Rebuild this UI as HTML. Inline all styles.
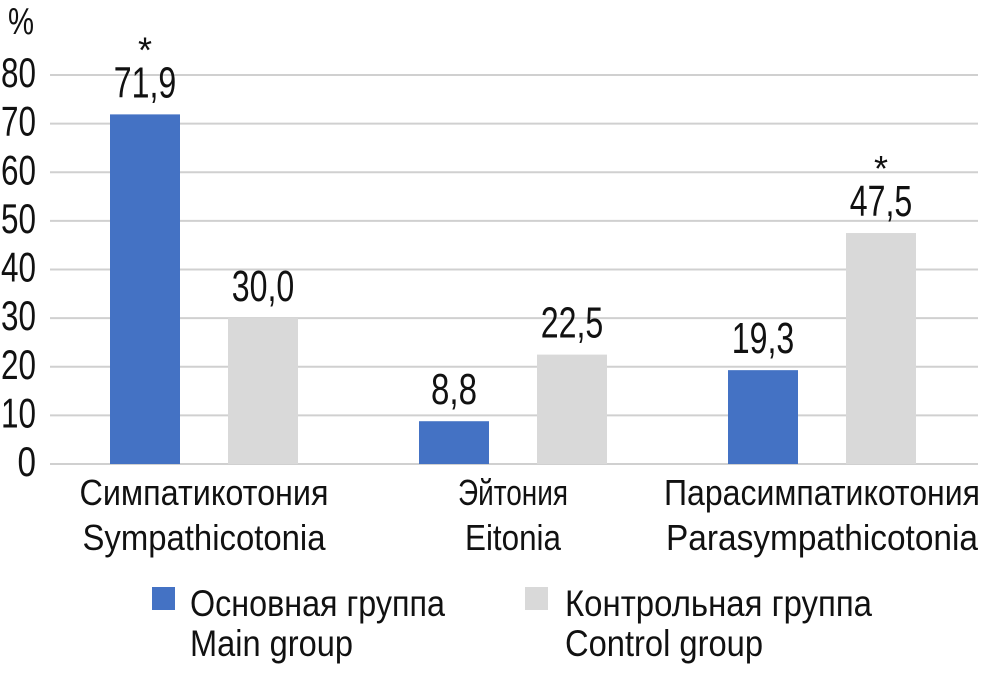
<!DOCTYPE html>
<html><head><meta charset="utf-8"><style>
body{margin:0;background:#fff}
svg text{font-family:"Liberation Sans Narrow","Liberation Sans",sans-serif;fill:#111}
</style></head><body>
<svg width="981" height="669" viewBox="0 0 981 669" xmlns="http://www.w3.org/2000/svg">
<g id="grid"></g>
<g id="yt"></g>
<text x="8" y="34" font-size="38" textLength="26" lengthAdjust="spacingAndGlyphs">%</text>
<g id="bars"></g>
<g id="xl"></g>
<g>
<rect x="152" y="587" width="23" height="23" fill="#4472c4"/>
<text x="190" y="616" font-size="37" textLength="255" lengthAdjust="spacingAndGlyphs">Основная группа</text>
<text x="190" y="656" font-size="37" textLength="163" lengthAdjust="spacingAndGlyphs">Main group</text>
<rect x="525" y="587" width="23" height="23" fill="#d9d9d9"/>
<text x="565" y="616" font-size="37" textLength="307" lengthAdjust="spacingAndGlyphs">Контрольная группа</text>
<text x="565" y="656" font-size="37" textLength="198" lengthAdjust="spacingAndGlyphs">Control group</text>
</g>
</svg>
<script>
const categoriesRu=["Симпатикотония","Эйтония","Парасимпатикотония"];
const categoriesEn=["Sympathicotonia","Eitonia","Parasympathicotonia"];
const mainValues=[71.9,8.8,19.3];
const controlValues=[30.0,22.5,47.5];
const mainStar=[true,false,false];
const controlStar=[false,false,true];
const yTicks=[0,10,20,30,40,50,60,70,80];
const ruW=[249,110,316],enW=[243,96,312];
const NS="http://www.w3.org/2000/svg";
const y=v=>464-v*(389/80);
const x0=49.5,gw=309;
const cx=i=>x0+gw*(i+0.5);
const tw=s=>[...s].reduce((a,c)=>a+(c===','?9:16.5),0);
function mk(t,a,p){const e=document.createElementNS(NS,t);for(const k in a)e.setAttribute(k,a[k]);p.appendChild(e);return e;}
const grid=document.getElementById('grid'),yt=document.getElementById('yt'),bars=document.getElementById('bars'),xl=document.getElementById('xl');
yTicks.forEach(v=>{
 const l=mk('line',{x1:50,x2:978,y1:y(v),y2:y(v),stroke:'#d0d0d0','stroke-width':2},grid);
 
 
 const s=String(v);
 const t=mk('text',{x:36,y:y(v)+12,'font-size':42,'text-anchor':'end',textLength:tw(s)+2,lengthAdjust:'spacingAndGlyphs'},yt);
 
 
 t.textContent=s;
});
function bar(v,xc,col,star,name){
 const r=mk('rect',{x:xc-35,y:y(v),width:70,height:y(0)-y(v),fill:col},bars);
 
 
 const s=v.toFixed(1).replace('.',',');
 const t=mk('text',{x:xc,y:y(v)-17,'font-size':44,'text-anchor':'middle',textLength:tw(s)+4,lengthAdjust:'spacingAndGlyphs'},bars);
 
 
 t.textContent=s;
 if(star){const st=mk('text',{x:xc,y:y(v)-52,'font-size':36,'text-anchor':'middle'},bars);
 
 
 st.textContent='*';}
}
categoriesRu.forEach((c,i)=>{
 bar(mainValues[i],cx(i)-59,'#4472c4',mainStar[i],'bar-main');
 bar(controlValues[i],cx(i)+59,'#d9d9d9',controlStar[i],'bar-control');
 const a=mk('text',{x:cx(i),y:505,'font-size':36,'text-anchor':'middle',textLength:ruW[i],lengthAdjust:'spacingAndGlyphs'},xl);
 
 
 a.textContent=c;
 const b=mk('text',{x:cx(i),y:550,'font-size':36,'text-anchor':'middle',textLength:enW[i],lengthAdjust:'spacingAndGlyphs'},xl);
 
 
 b.textContent=categoriesEn[i];
});
</script>
</body></html>
